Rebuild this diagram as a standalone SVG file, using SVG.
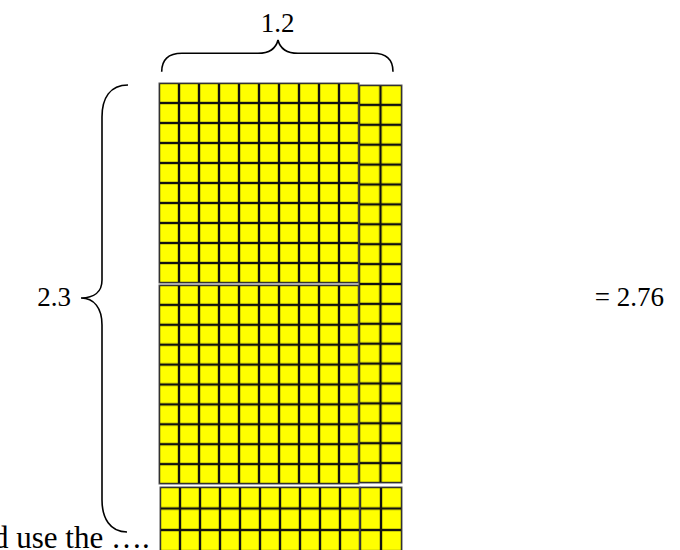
<svg xmlns="http://www.w3.org/2000/svg" width="680" height="550" viewBox="0 0 680 550">
<style>
.t{font-family:"Liberation Serif","Times New Roman",serif;font-size:27px;fill:#000}
.br{fill:none;stroke:#000;stroke-width:1.6}
.blk{stroke:#555;stroke-width:1}
</style>
<defs>
<pattern id="pA" patternUnits="userSpaceOnUse" x="159" y="83" width="20" height="20"><rect width="20" height="20" fill="#111"/><rect x="1.2" y="1.2" width="17.6" height="17.6" fill="#ff0"/></pattern>
<pattern id="pB" patternUnits="userSpaceOnUse" x="159" y="285" width="20" height="19.9"><rect width="20" height="19.9" fill="#111"/><rect x="1.2" y="1.2" width="17.6" height="17.5" fill="#ff0"/></pattern>
<pattern id="pR" patternUnits="userSpaceOnUse" x="359" y="85" width="21.5" height="19.9"><rect width="21.5" height="19.9" fill="#111"/><rect x="1.2" y="1.2" width="19.1" height="17.5" fill="#ff0"/></pattern>
<pattern id="pS" patternUnits="userSpaceOnUse" x="160" y="487" width="20" height="21.5"><rect width="20" height="21.5" fill="#111"/><rect x="1.2" y="1.2" width="17.6" height="19.1" fill="#ff0"/></pattern>
<pattern id="pT" patternUnits="userSpaceOnUse" x="360" y="487" width="21" height="21.5"><rect width="21" height="21.5" fill="#111"/><rect x="1.2" y="1.2" width="18.6" height="19.1" fill="#ff0"/></pattern>
</defs>
<g id="grid">
<rect class="blk" x="159" y="83" width="200" height="200" fill="url(#pA)"/>
<rect class="blk" x="159" y="285" width="200" height="199" fill="url(#pB)"/>
<rect class="blk" x="359" y="85" width="43" height="398" fill="url(#pR)"/>
<rect class="blk" x="160" y="487" width="200" height="70" fill="url(#pS)"/>
<rect class="blk" x="360" y="487" width="42" height="70" fill="url(#pT)"/>
</g>
<g id="braces">
<path class="br" d="M161.7,71.7 C161.7,60 168,53.3 182,53.3 L258,53.3 C270,53.3 276,48 278,40 C280,48 286,53.3 298,53.3 L373,53.3 C387,53.3 393,60 393,71.7"/>
<path class="br" d="M128,85 C110,85 102,98 102,117 L102,280 C102,292 94,298 81,298 C94,298 102,308 102,325 L102,500 C102,518 110,532 127,532"/>
</g>
<g id="labels">
<text class="t" x="71" y="306" text-anchor="end">2.3</text>
<text class="t" x="277.5" y="32" text-anchor="middle">1.2</text>
<text class="t" x="664" y="306" text-anchor="end">= 2.76</text>
<text class="t" x="-7" y="548" style="font-size:31px">d use the ….</text>
</g>
</svg>
